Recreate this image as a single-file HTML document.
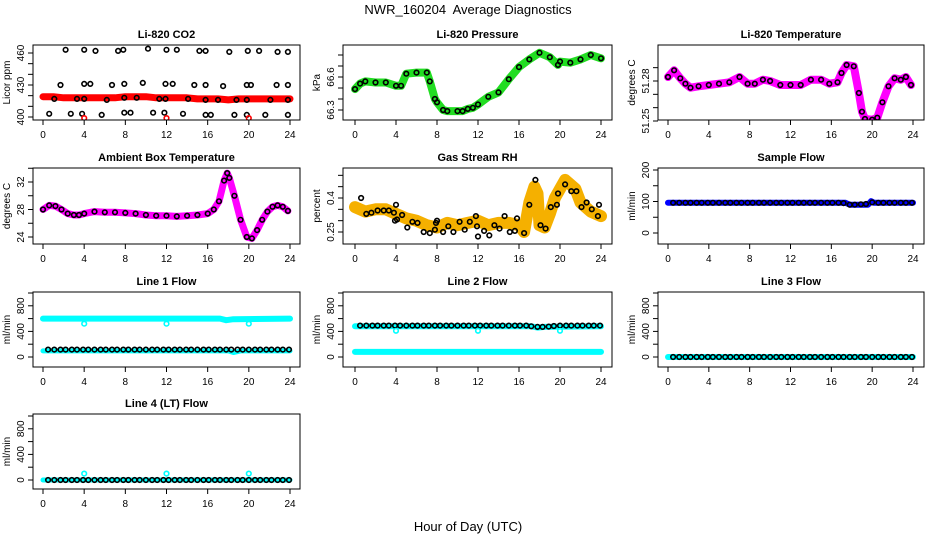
<!DOCTYPE html>
<html><head><meta charset="utf-8">
<style>
html,body{margin:0;padding:0;background:#fff;}
svg{display:block;font-family:"Liberation Sans",sans-serif;}
</style></head>
<body>
<svg id="chart" width="936" height="540" viewBox="0 0 936 540" xmlns="http://www.w3.org/2000/svg">
<rect width="936" height="540" fill="#fff"/>
<text x="468" y="14" font-size="13" text-anchor="middle">NWR_160204&#160; Average Diagnostics</text>
<text x="468" y="531" font-size="13" text-anchor="middle">Hour of Day (UTC)</text>
</svg>
<script>
// ---- data ----
const xTicks = [0,4,8,12,16,20,24];
const flowTimes = [0.5,1.1,1.7,2.2,2.8,3.3,3.9,4.4,5.0,5.6,6.1,6.7,7.2,7.8,8.3,8.9,9.4,10.0,10.6,11.1,11.7,12.2,12.8,13.3,13.9,14.4,15.0,15.6,16.1,16.7,17.2,17.8,18.3,18.9,19.4,20.0,20.6,21.1,21.7,22.2,22.8,23.3,23.9];

const co2LineT = [0,1,2,3,4,5,6,7,8,9,10,11,12,13,14,15,16,17,18,19,20,21,22,23,24];
const co2LineV = [419,419,418,418,418,418,418,418,419,419,419,418,418,418,418,417,417,417,416,417,417,417,417,417,417];
const co2PtT = [2.2,4,5.1,7.3,7.8,10.2,12,13,15.2,15.8,18.1,19.9,21,22.8,23.8, 1.7,4,4.6,6.7,7.9,9.7,11.9,12.6,14.7,15.8,17.5,19.8,20.2,22.7,23.8, 1.1,3.3,4,6.2,7.9,9.1,11.3,11.9,14.1,15.8,17,18.8,19.8,22.1,23.8, 0.6,2.7,3.8,5.7,7.9,8.5,10.7,11.8,13.6,15.8,16.3,18.6,19.8,21.6,23.8];
const co2PtV = [463,463,462,462,463,464,463,463,462,462,461,462,462,461,461, 430,431,431,430,431,432,431,431,430,430,429,430,430,430,430, 417,417,417,416,418,418,417,417,417,416,416,416,416,416,416, 403,403,403,402,404,404,404,404,403,402,402,402,402,402,402];
const co2RedT = [4,12,20];
const co2RedV = [399,399,399];

const presT = [0,0.5,1,2,3,4,4.5,5,6,7,7.3,7.8,8,8.6,9,10,10.5,11,11.5,12,13,14,15,16,17,18,19,19.8,20,21,22,23,24];
const presV = [66.49,66.54,66.56,66.55,66.55,66.52,66.52,66.63,66.64,66.64,66.56,66.40,66.37,66.30,66.29,66.29,66.29,66.31,66.32,66.35,66.42,66.46,66.58,66.69,66.76,66.82,66.78,66.71,66.74,66.73,66.76,66.80,66.77];

const tempT = [0,0.6,1.2,1.7,2.2,3,4,5,6,7,7.8,8.5,9.3,10,11,12,13,14,15,15.8,16.6,17,17.5,18.2,18.7,19,19.3,20,20.5,21,21.6,22.2,22.8,23.3,23.8];
const tempV = [51.283,51.288,51.282,51.278,51.275,51.276,51.277,51.278,51.279,51.283,51.278,51.278,51.281,51.280,51.277,51.277,51.277,51.281,51.281,51.278,51.279,51.286,51.292,51.291,51.271,51.257,51.2515,51.251,51.2525,51.264,51.276,51.282,51.281,51.283,51.277];

const ambT = [0,0.6,1.2,1.8,2.4,3,3.5,4,5,6,7,8,9,10,11,12,13,14,15,16,16.6,17.1,17.6,17.9,18.1,18.6,19.2,19.8,20.3,20.8,21.3,21.8,22.3,22.8,23.3,23.8];
const ambV = [28.0,28.6,28.5,28.0,27.4,27.2,27.2,27.4,27.7,27.6,27.6,27.5,27.4,27.2,27.1,27.1,27.0,27.1,27.2,27.4,28.0,29.2,32.2,33.3,32.6,30.0,26.5,24.0,23.8,25.0,26.5,27.7,28.4,28.6,28.4,27.8];

const rhBandT = [0,1,2,3,4,5,6,7,8,9,10,11,12,13,14,15,16,16.5,17,17.5,17.8,18,18.5,19,19.5,20,20.5,21,21.5,22,22.5,23,23.5,24];
const rhBandV = [0.36,0.34,0.35,0.35,0.33,0.31,0.30,0.28,0.27,0.29,0.28,0.29,0.30,0.28,0.29,0.29,0.28,0.25,0.38,0.45,0.42,0.28,0.27,0.33,0.40,0.44,0.48,0.46,0.44,0.38,0.36,0.34,0.33,0.32];
const rhPtT = [0.6,1.1,1.6,2.2,2.8,3.3,3.8,3.9,4,4.1,4.6,5.1,5.6,6.1,6.7,7.3,7.8,7.9,8,8.6,9.1,9.6,10.2,10.7,11.2,11.8,11.9,12,12.6,13.1,13.6,14.1,14.6,15.1,15.6,15.8,16.5,17,17.6,18.1,18.6,19.1,19.7,19.8,20.5,21.1,21.6,22.1,22.6,23.1,23.7,23.8];
const rhPtV = [0.40,0.33,0.335,0.345,0.345,0.345,0.335,0.30,0.37,0.305,0.325,0.27,0.295,0.29,0.25,0.245,0.26,0.29,0.30,0.25,0.275,0.25,0.295,0.26,0.295,0.32,0.275,0.23,0.255,0.235,0.28,0.265,0.32,0.25,0.255,0.31,0.245,0.37,0.48,0.28,0.265,0.36,0.37,0.42,0.46,0.43,0.43,0.36,0.38,0.35,0.32,0.37];

const sampleLineT = [0,17.4,17.8,19.6,19.9,20.2,24];
const sampleLineV = [96,96,90,90,101,96,96];
const sampleBlackV = [96,96,96,96,96,96,96,96,96,96,96,96,96,96,96,96,96,96,96,96,96,96,96,96,96,96,96,96,96,96,95,90,90,91,92,97,96,96,96,96,96,96,96];

const l1UpT = [0,17.2,17.8,18.5,24];
const l1UpV = [600,600,575,590,600];
const l1LowT = [0,18.0,18.5,19.2,24];
const l1LowV = [95,95,70,95,95];
const l1BlackV = [115,115,115,115,115,115,115,115,115,115,115,115,115,115,115,115,115,115,115,115,115,115,115,115,115,115,115,115,115,115,115,115,115,115,115,115,115,115,115,115,115,115,115];
const spikeT = [4,12,20];
const l1SpikeV = [520,520,520];

const l2UpT = [0,17.2,17.8,18.5,24];
const l2UpV = [480,480,460,470,480];
const l2LowT = [0,24];
const l2LowV = [80,80];
const l2BlackV = [490,490,490,490,490,490,490,490,490,490,490,490,490,490,490,490,490,490,490,490,490,490,490,490,490,490,490,490,490,490,480,470,470,475,485,490,490,490,490,490,490,490,490];
const l2SpikeV = [410,410,410];

const zeroLineT = [0,24];
const zeroLineV = [0,0];
const l3BlackV = [0,0,0,0,0,0,0,0,0,0,0,0,0,0,0,0,0,0,0,0,0,0,0,0,0,0,0,0,0,0,0,0,0,0,0,0,0,0,0,0,0,0,0];
const l4SpikeV = [100,100,100];

// ---- layout ----
const NS = "http://www.w3.org/2000/svg";
const svg = document.getElementById('chart');
const cols = [{l:33,r:300,t0:43,t24:290},{l:343,r:612,t0:355,t24:601},{l:658,r:924,t0:668,t24:913}];
const rows = [{t:45,b:120},{t:168,b:244},{t:292,b:367},{t:414,b:489}];

function mk(tag, attrs, parent){
  const e = document.createElementNS(NS, tag);
  for (const k in attrs) e.setAttribute(k, attrs[k]);
  (parent||svg).appendChild(e);
  return e;
}

function panel(cfg){
  const c = cols[cfg.col], r = rows[cfg.row];
  const g = mk('g', {});
  
  
  const xs = t => c.t0 + (c.t24 - c.t0) * t / 24;
  const ys = v => cfg.p1 + (cfg.p2 - cfg.p1) * (v - cfg.v1) / (cfg.v2 - cfg.v1);
  const ti = mk('text', {x:(c.l+c.r)/2, y:r.t-7, 'font-size':11, 'font-weight':'bold', 'text-anchor':'middle'}, g);
  
  
  ti.textContent = cfg.title;
  const cid = 'clip' + cfg.col + cfg.row;
  const cp = mk('clipPath', {id:cid}, g);
  mk('rect', {x:c.l, y:r.t, width:c.r-c.l, height:r.b-r.t}, cp);
  const data = mk('g', {'clip-path':'url(#'+cid+')'}, g);
  
  
  (cfg.lines||[]).forEach(L => {
    const pts = L.t.map((t,i) => xs(t).toFixed(1)+','+ys(L.v[i]).toFixed(1)).join(' ');
    const pl = mk('polyline', {points:pts, fill:'none', stroke:L.color, 'stroke-width':L.w, 'stroke-linejoin':'round', 'stroke-linecap':'round'}, data);
    
    
  });
  (cfg.points||[]).forEach(P => {
    P.t.forEach((t,i) => {
      const ci = mk('circle', {cx:xs(t).toFixed(1), cy:ys(P.v[i]).toFixed(1), r:P.r||2.3, fill:'none', stroke:P.color, 'stroke-width':1.6}, data);
      
      
    });
  });
  const bx = mk('rect', {x:c.l, y:r.t, width:c.r-c.l, height:r.b-r.t, fill:'none', stroke:'#000', 'stroke-width':1}, g);
  
  
  xTicks.forEach(t => {
    mk('line', {x1:xs(t), x2:xs(t), y1:r.b, y2:r.b+5, stroke:'#000'}, g);
    const tl = mk('text', {x:xs(t), y:r.b+18, 'font-size':10, 'text-anchor':'middle'}, g);
    
    
    tl.textContent = t;
  });
  cfg.yTicks.forEach(v => {
    const y = ys(v);
    mk('line', {x1:c.l-5, x2:c.l, y1:y, y2:y, stroke:'#000'}, g);
  });
  cfg.yLabels.forEach(v => {
    const y = ys(v);
    const tl = mk('text', {x:0, y:0, 'font-size':10, 'text-anchor':'middle', transform:'translate('+(c.l-9)+','+y.toFixed(1)+') rotate(-90)'}, g);
    
    
    tl.textContent = v;
  });
  const yl = mk('text', {x:0, y:0, 'font-size':10, 'text-anchor':'middle', transform:'translate('+(c.l-23)+','+((r.t+r.b)/2)+') rotate(-90)'}, g);
  
  
  yl.textContent = cfg.ylab;
}

const flowTicks = [0,200,400,600,800,1000];
const flowLabels = [0,400,800];

panel({name:'co2-panel', col:0,row:0,title:'Li-820 CO2',ylab:'Licor ppm',v1:400,p1:117,v2:460,p2:53,
  yTicks:[400,410,420,430,440,450,460], yLabels:[400,430,460],
  lines:[{name:'co2-line',t:co2LineT,v:co2LineV,color:'#ff0000',w:7}],
  points:[{name:'co2-point',t:co2PtT,v:co2PtV,color:'#000'},{name:'co2-red-point',t:co2RedT,v:co2RedV,color:'#ff0000'}]});

panel({name:'pressure-panel', col:1,row:0,title:'Li-820 Pressure',ylab:'kPa',v1:66.3,p1:110,v2:66.6,p2:77,
  yTicks:[66.3,66.4,66.5,66.6,66.7,66.8], yLabels:[66.3,66.6],
  lines:[{name:'pressure-line',t:presT,v:presV,color:'#22dd22',w:8}],
  points:[{name:'pressure-point',t:presT,v:presV,color:'#000'}]});

panel({name:'temperature-panel', col:2,row:0,title:'Li-820 Temperature',ylab:'degrees C',v1:51.25,p1:121,v2:51.28,p2:81,
  yTicks:[51.25,51.26,51.27,51.28,51.29], yLabels:[51.25,51.28],
  lines:[{name:'temperature-line',t:tempT,v:tempV,color:'#ff00ff',w:8}],
  points:[{name:'temperature-point',t:tempT,v:tempV,color:'#000'}]});

panel({name:'ambient-panel', col:0,row:1,title:'Ambient Box Temperature',ylab:'degrees C',v1:24,p1:237,v2:32,p2:182,
  yTicks:[24,26,28,30,32,34], yLabels:[24,28,32],
  lines:[{name:'ambient-line',t:ambT,v:ambV,color:'#ff00ff',w:7}],
  points:[{name:'ambient-point',t:ambT,v:ambV,color:'#000'}]});

panel({name:'rh-panel', col:1,row:1,title:'Gas Stream RH',ylab:'percent',v1:0.25,p1:232,v2:0.40,p2:198,
  yTicks:[0.25,0.30,0.35,0.40,0.45,0.50], yLabels:[0.25,0.4],
  lines:[{name:'rh-band',t:rhBandT,v:rhBandV,color:'#f5b000',w:12}],
  points:[{name:'rh-point',t:rhPtT,v:rhPtV,color:'#000'}]});

panel({name:'sample-flow-panel', col:2,row:1,title:'Sample Flow',ylab:'ml/min',v1:0,p1:233,v2:200,p2:170,
  yTicks:[0,50,100,150,200], yLabels:[0,100,200],
  lines:[{name:'sample-flow-line',t:sampleLineT,v:sampleLineV,color:'#0000ff',w:6}],
  points:[{name:'sample-flow-point',t:flowTimes,v:sampleBlackV,color:'#000'}]});

panel({name:'line1-panel', col:0,row:2,title:'Line 1 Flow',ylab:'ml/min',v1:0,p1:357,v2:1000,p2:293,
  yTicks:flowTicks, yLabels:flowLabels,
  lines:[{name:'line1-upper',t:l1UpT,v:l1UpV,color:'#00ffff',w:6},{name:'line1-lower',t:l1LowT,v:l1LowV,color:'#00ffff',w:5}],
  points:[{name:'line1-point',t:flowTimes,v:l1BlackV,color:'#000'},{name:'line1-spike',t:spikeT,v:l1SpikeV,color:'#00ffff'}]});

panel({name:'line2-panel', col:1,row:2,title:'Line 2 Flow',ylab:'ml/min',v1:0,p1:357,v2:1000,p2:293,
  yTicks:flowTicks, yLabels:flowLabels,
  lines:[{name:'line2-upper',t:l2UpT,v:l2UpV,color:'#00ffff',w:6},{name:'line2-lower',t:l2LowT,v:l2LowV,color:'#00ffff',w:6}],
  points:[{name:'line2-point',t:flowTimes,v:l2BlackV,color:'#000'},{name:'line2-spike',t:spikeT,v:l2SpikeV,color:'#00ffff'}]});

panel({name:'line3-panel', col:2,row:2,title:'Line 3 Flow',ylab:'ml/min',v1:0,p1:357,v2:1000,p2:293,
  yTicks:flowTicks, yLabels:flowLabels,
  lines:[{name:'line3-line',t:zeroLineT,v:zeroLineV,color:'#00ffff',w:6}],
  points:[{name:'line3-point',t:flowTimes,v:l3BlackV,color:'#000'}]});

panel({name:'line4-panel', col:0,row:3,title:'Line 4 (LT) Flow',ylab:'ml/min',v1:0,p1:480,v2:1000,p2:416,
  yTicks:flowTicks, yLabels:flowLabels,
  lines:[{name:'line4-line',t:zeroLineT,v:zeroLineV,color:'#00ffff',w:5}],
  points:[{name:'line4-point',t:flowTimes,v:l3BlackV,color:'#000'},{name:'line4-spike',t:spikeT,v:l4SpikeV,color:'#00ffff'}]});
</script>
</body></html>
